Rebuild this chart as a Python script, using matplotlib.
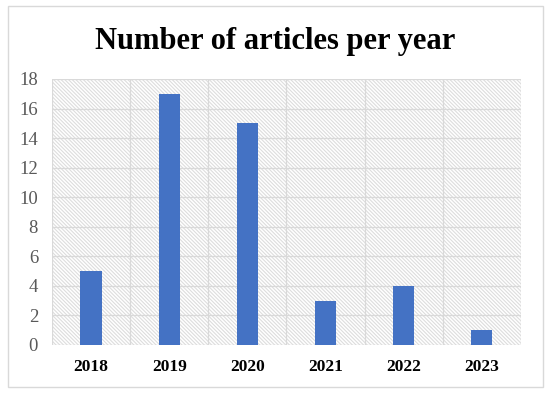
import matplotlib.pyplot as plt
from matplotlib.patches import Rectangle
import numpy as np

years = ["2018", "2019", "2020", "2021", "2022", "2023"]
articles = [5, 17, 15, 3, 4, 1]
y_ticks = [0, 2, 4, 6, 8, 10, 12, 14, 16, 18]

plt.rcParams["font.family"] = ["Liberation Serif", "DejaVu Serif"]
plt.rcParams["hatch.color"] = "#dddddd"
plt.rcParams["hatch.linewidth"] = 0.8

fig = plt.figure(figsize=(5.5, 3.94), dpi=100)
ax = fig.add_axes([0.0945, 0.1244, 0.8525, 0.6751])

# outer chart border
fig.patches.append(Rectangle((8 / 550, 7 / 394), 535 / 550, 381 / 394,
                             transform=fig.transFigure, fill=False,
                             edgecolor="#d9d9d9", linewidth=1.0))

x = np.arange(len(years))
ax.set_xlim(-0.5, len(years) - 0.5)
ax.set_ylim(0, 18)

# hatched plot area background
ax.add_patch(Rectangle((0, 0), 1, 1, transform=ax.transAxes, facecolor="white",
                       edgecolor="#dddddd", hatch="\\" * 9, linewidth=0, zorder=0))

ax.bar(x, articles, width=0.27, color="#4472C4", zorder=3)

ax.set_yticks(y_ticks)
ax.set_xticks(x)
ax.set_xticklabels(years, fontweight="bold", fontsize=12.5, color="black")
ax.set_xticks(np.arange(-0.5, len(years)), minor=True)
ax.tick_params(axis="y", labelsize=13.5, labelcolor="#595959", length=0, pad=10)
ax.tick_params(axis="x", which="both", length=0, pad=10)
ax.grid(axis="y", color="#d9d9d9", linewidth=0.9, zorder=1)
ax.grid(axis="x", which="minor", color="#d9d9d9", linewidth=0.9, zorder=1)
for s in ax.spines.values():
    s.set_visible(False)

fig.text(0.5, 0.895, "Number of articles per year", ha="center", va="center",
         fontsize=22, fontweight="bold")

fig.savefig("out.png", dpi=100)
